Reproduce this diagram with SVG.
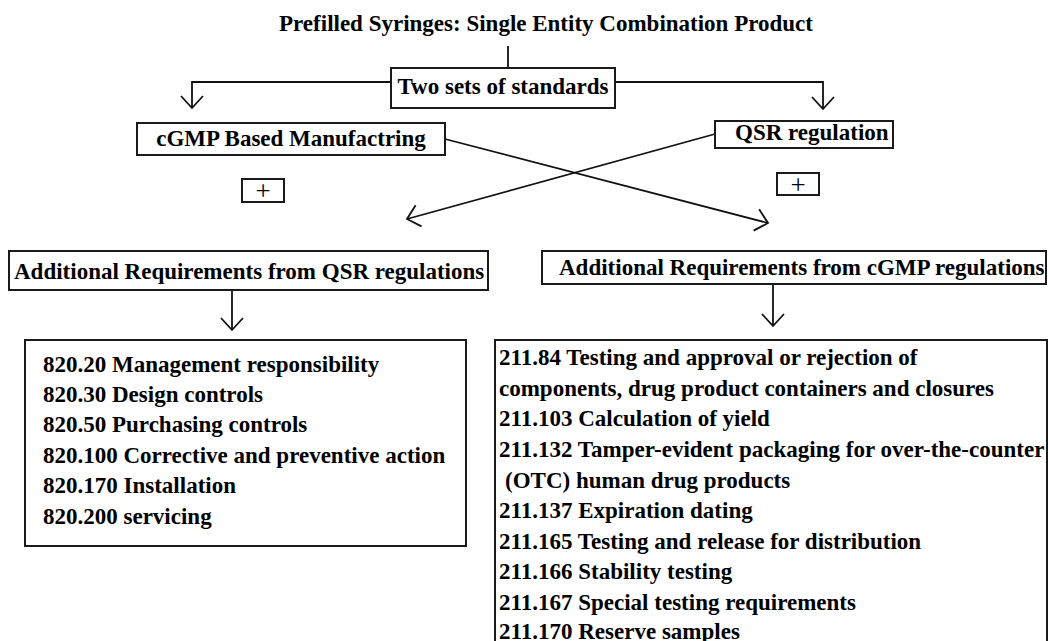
<svg xmlns="http://www.w3.org/2000/svg" width="1048" height="641" viewBox="0 0 1048 641">
<defs>
<style>
.t{font-family:"Liberation Serif","Times New Roman",serif;font-weight:bold;font-size:23px;fill:#000}
.p{font-family:"Liberation Serif","Times New Roman",serif;font-size:27px;fill:#000}
.box{fill:#fff;stroke:#1a1a1a;stroke-width:2}
.c{fill:none;stroke:#111;stroke-width:1.8}
</style>
<marker id="v" markerUnits="userSpaceOnUse" orient="auto" refX="0" refY="0" markerWidth="30" markerHeight="30" viewBox="-15 -15 30 30" overflow="visible">
<path d="M-12,-11 L0,0 L-12,11" fill="none" stroke="#111" stroke-width="1.8"/>
</marker>
</defs>
<rect width="1048" height="641" fill="#fff"/>
<g id="connectors">
<path class="c" d="M508,46 V68"/>
<path class="c" d="M391,82 H192 V108" marker-end="url(#v)"/>
<path class="c" d="M615,82 H823 V109" marker-end="url(#v)"/>
<path class="c" d="M445,139 L768,223" marker-end="url(#v)"/>
<path class="c" d="M715,134 L407,219" marker-end="url(#v)"/>
<path class="c" d="M232,290 V330" marker-end="url(#v)"/>
<path class="c" d="M773,284 V326" marker-end="url(#v)"/>
</g>
<g id="title"><text class="t" x="546" y="31" text-anchor="middle">Prefilled Syringes: Single Entity Combination Product</text></g>
<g id="two-sets"><rect class="box" x="391" y="68" width="224" height="40"/><text class="t" x="503" y="94" text-anchor="middle">Two sets of standards</text></g>
<g id="cgmp"><rect class="box" x="137" y="123" width="308" height="32"/><text class="t" x="291" y="146" text-anchor="middle">cGMP Based Manufactring</text></g>
<g id="qsr"><rect class="box" x="715" y="121" width="178" height="27"/><text class="t" x="735" y="140">QSR regulation</text></g>
<g id="plus-left"><rect class="box" x="242" y="179" width="42" height="23"/><text class="p" x="263" y="200" text-anchor="middle">+</text></g>
<g id="plus-right"><rect class="box" x="777" y="173" width="42" height="22"/><text class="p" x="798" y="194" text-anchor="middle">+</text></g>
<g id="add-qsr"><rect class="box" x="9" y="251" width="479" height="39"/><text class="t" x="14" y="279">Additional Requirements from QSR regulations</text></g>
<g id="add-cgmp"><rect class="box" x="542" y="251" width="504" height="33"/><text class="t" x="559" y="275">Additional Requirements from cGMP regulations</text></g>
<g id="qsr-list"><rect class="box" x="25" y="340" width="441" height="206"/>
<text class="t" x="43" y="372">820.20 Management responsibility</text>
<text class="t" x="43" y="402">820.30 Design controls</text>
<text class="t" x="43" y="432">820.50 Purchasing controls</text>
<text class="t" x="43" y="463">820.100 Corrective and preventive action</text>
<text class="t" x="43" y="493">820.170 Installation</text>
<text class="t" x="43" y="524">820.200 servicing</text>
</g>
<g id="cgmp-list"><rect class="box" x="495" y="340" width="552" height="320"/>
<text class="t" x="499" y="365">211.84 Testing and approval or rejection of</text>
<text class="t" x="499" y="396">components, drug product containers and closures</text>
<text class="t" x="499" y="426">211.103 Calculation of yield</text>
<text class="t" x="499" y="457">211.132 Tamper-evident packaging for over-the-counter</text>
<text class="t" x="505" y="488">(OTC) human drug products</text>
<text class="t" x="499" y="518">211.137 Expiration dating</text>
<text class="t" x="499" y="549">211.165 Testing and release for distribution</text>
<text class="t" x="499" y="579">211.166 Stability testing</text>
<text class="t" x="499" y="610">211.167 Special testing requirements</text>
<text class="t" x="499" y="639">211.170 Reserve samples</text>
</g>
</svg>
